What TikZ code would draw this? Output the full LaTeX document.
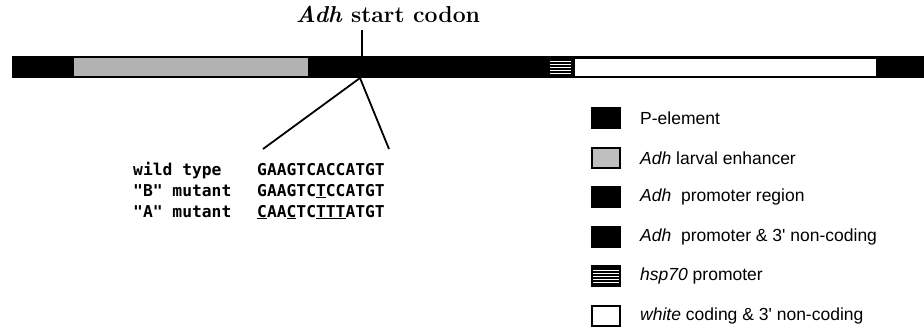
\documentclass[tikz,border=0pt]{standalone}
\usepackage{fontspec}
\newfontfamily\helv{Liberation Sans}
\newfontfamily\seqfont{DejaVu Sans Mono}
\begin{document}
\begin{tikzpicture}[x=1pt,y=-1pt,
  conn/.style={line width=1.8pt},
  barpart/.style={anchor=north west,inner sep=0pt,outer sep=0pt},
  legbox/.style={draw=black,line width=1.2pt,minimum width=28pt,minimum height=20pt,inner sep=0pt},
  legtext/.style={anchor=west,font=\helv\fontsize{17.5}{20}\selectfont,inner sep=0pt},
  seqtext/.style={anchor=base west,font=\seqfont\bfseries\fontsize{16.3}{20}\selectfont,inner sep=0pt},
  stripe/.style={white,line width=0.7pt}]
\useasboundingbox (0,0) rectangle (924,327);
% construct bar
\node[barpart,fill=black,minimum width=912pt,minimum height=22pt] (bar) at (12,56) {};
\node[barpart,fill=gray!60,minimum width=234pt,minimum height=18pt] (enh) at (74,58) {};
\node[barpart,fill=black,minimum width=23pt,minimum height=18pt] (hsp) at (549,58) {};
\foreach \yy in {61.5,64.5,67.5,70.5,73.5} \draw[stripe] (550,\yy) -- (571,\yy);
\node[barpart,fill=white,minimum width=301pt,minimum height=17pt] (wcod) at (575,58.5) {};
% start codon
\node[anchor=base,inner sep=0pt,font=\bfseries\fontsize{23}{26}\selectfont] (title) at (388,22) {\textit{Adh} start codon};
\coordinate (codon) at (362,56);
\coordinate (codontop) at (362,30);
\draw[conn] (codontop) -- (codon);
% fan
\coordinate (fanapex) at (360,78);
\coordinate (fanL) at (263,149);
\coordinate (fanR) at (389,149);
\draw[conn] (fanapex) -- (fanL);
\draw[conn] (fanapex) -- (fanR);
% sequences
\node[seqtext] (lwt) at (133,175) {wild type};
\node[seqtext] (swt) at (257,175) {GAAGTCACCATGT};
\node[seqtext] (lb) at (133,196) {"B" mutant};
\node[seqtext] (sb) at (257,196) {GAAGTC\underline{T}CCATGT};
\node[seqtext] (la) at (133,217) {"A" mutant};
\node[seqtext] (sa) at (257,217) {\underline{C}AA\underline{C}TC\underline{TTT}ATGT};
% legend
\node[legbox,fill=black] (k1) at (606,118) {};
\node[legtext] (t1) at (640,118) {P-element};
\node[legbox,fill=gray!50] (k2) at (606,158) {};
\node[legtext] (t2) at (640,158) {\textit{Adh} larval enhancer};
\node[legbox,fill=black] (k3) at (606,197) {};
\node[legtext] (t3) at (640,197) {\textit{Adh}\ \ promoter region};
\node[legbox,fill=black] (k4) at (606,237) {};
\node[legtext] (t4) at (640,237) {\textit{Adh}\ \ promoter \& 3' non-coding};
\node[legbox,fill=black] (k5) at (606,276) {};
\foreach \yy in {-6,-3,0,3,6} \draw[stripe] ([xshift=2pt,yshift=\yy pt]k5.west) -- ([xshift=-2pt,yshift=\yy pt]k5.east);
\node[legtext] (t5) at (640,276) {\textit{hsp70} promoter};
\node[legbox,fill=white] (k6) at (606,316) {};
\node[legtext] (t6) at (640,316) {\textit{white} coding \& 3' non-coding};
\end{tikzpicture}
\end{document}
